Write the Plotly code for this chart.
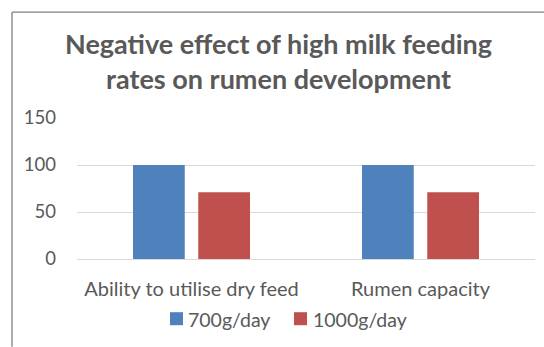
import plotly.graph_objects as go

categories = ["Ability to utilise dry feed", "Rumen capacity"]
series_names = ["700g/day", "1000g/day"]
values_700 = [100, 100]
values_1000 = [71, 71]
y_ticks = [0, 50, 100, 150]
title_text = "Negative effect of high milk feeding<br>rates on rumen development"

colors = ["#4F81BD", "#C0504D"]
text_color = "#595959"
font_family = "Lato, 'Open Sans', sans-serif"

W, H = 544, 347
L, R, T, B = 77, 9, 118.3, 87.7
pw, ph = W - L - R, H - T - B

fig = go.Figure()
for name, vals, col in zip(series_names, [values_700, values_1000], colors):
    fig.add_trace(go.Bar(x=categories, y=vals, name=name, showlegend=False,
                         marker=dict(color=col, line=dict(width=0))))

def px_to_paper_x(px):
    return (px - L) / pw

def px_to_paper_y(py):
    return (H - B - py) / ph

# custom legend (squares + names)
legend_sq_x = [170, 294]
legend_text_x = [187, 312]
legend_y = 319
sq = 13
shapes = []
annotations = []
for name, col, sx, tx in zip(series_names, colors, legend_sq_x, legend_text_x):
    shapes.append(dict(type="rect", xref="paper", yref="paper",
                       x0=px_to_paper_x(sx), x1=px_to_paper_x(sx + sq),
                       y0=px_to_paper_y(legend_y - sq / 2), y1=px_to_paper_y(legend_y + sq / 2),
                       fillcolor=col, line=dict(width=0)))
    annotations.append(dict(text=name, xref="paper", yref="paper",
                            x=px_to_paper_x(tx - 1), y=px_to_paper_y(legend_y + 1),
                            xanchor="left", yanchor="middle", showarrow=False,
                            font=dict(size=19.5, color=text_color, family=font_family)))

annotations.append(dict(text="<b>" + title_text.replace("<br>", "</b><br><b>") + "</b>",
                        xref="paper", yref="paper", x=px_to_paper_x(278), y=px_to_paper_y(61),
                        xanchor="center", yanchor="middle", showarrow=False,
                        font=dict(size=27, color=text_color, family=font_family)))

shapes += [
    dict(type="line", xref="paper", yref="paper",
         x0=px_to_paper_x(12), x1=px_to_paper_x(12), y0=px_to_paper_y(12.5), y1=px_to_paper_y(347),
         line=dict(color="#7F7F7F", width=1.3)),
    dict(type="line", xref="paper", yref="paper",
         x0=px_to_paper_x(12), x1=px_to_paper_x(544), y0=px_to_paper_y(12.5), y1=px_to_paper_y(12.5),
         line=dict(color="#7F7F7F", width=1.3)),
]

fig.update_layout(
    width=W, height=H,
    margin=dict(l=L, r=R, t=T, b=B, pad=0),
    paper_bgcolor="white", plot_bgcolor="white",
    font=dict(family=font_family, color=text_color, size=19),
    barmode="group", bargap=0.43, bargroupgap=0.207,
    showlegend=False,
    xaxis=dict(range=[-0.5, 1.5], showgrid=False, showline=False, zeroline=False,
               ticks="", tickfont=dict(size=20, color=text_color), ticklabelstandoff=16,
               fixedrange=True),
    yaxis=dict(range=[0, 150], tickvals=y_ticks, showgrid=True, gridcolor="#D9D9D9",
               gridwidth=1, zeroline=True, zerolinecolor="#D9D9D9", zerolinewidth=1,
               showline=False, ticks="", tickfont=dict(size=18.5, color=text_color),
               ticklabelstandoff=20),
    annotations=annotations,
    shapes=shapes,
)

fig.write_html("out.html", config={"displayModeBar": False})
